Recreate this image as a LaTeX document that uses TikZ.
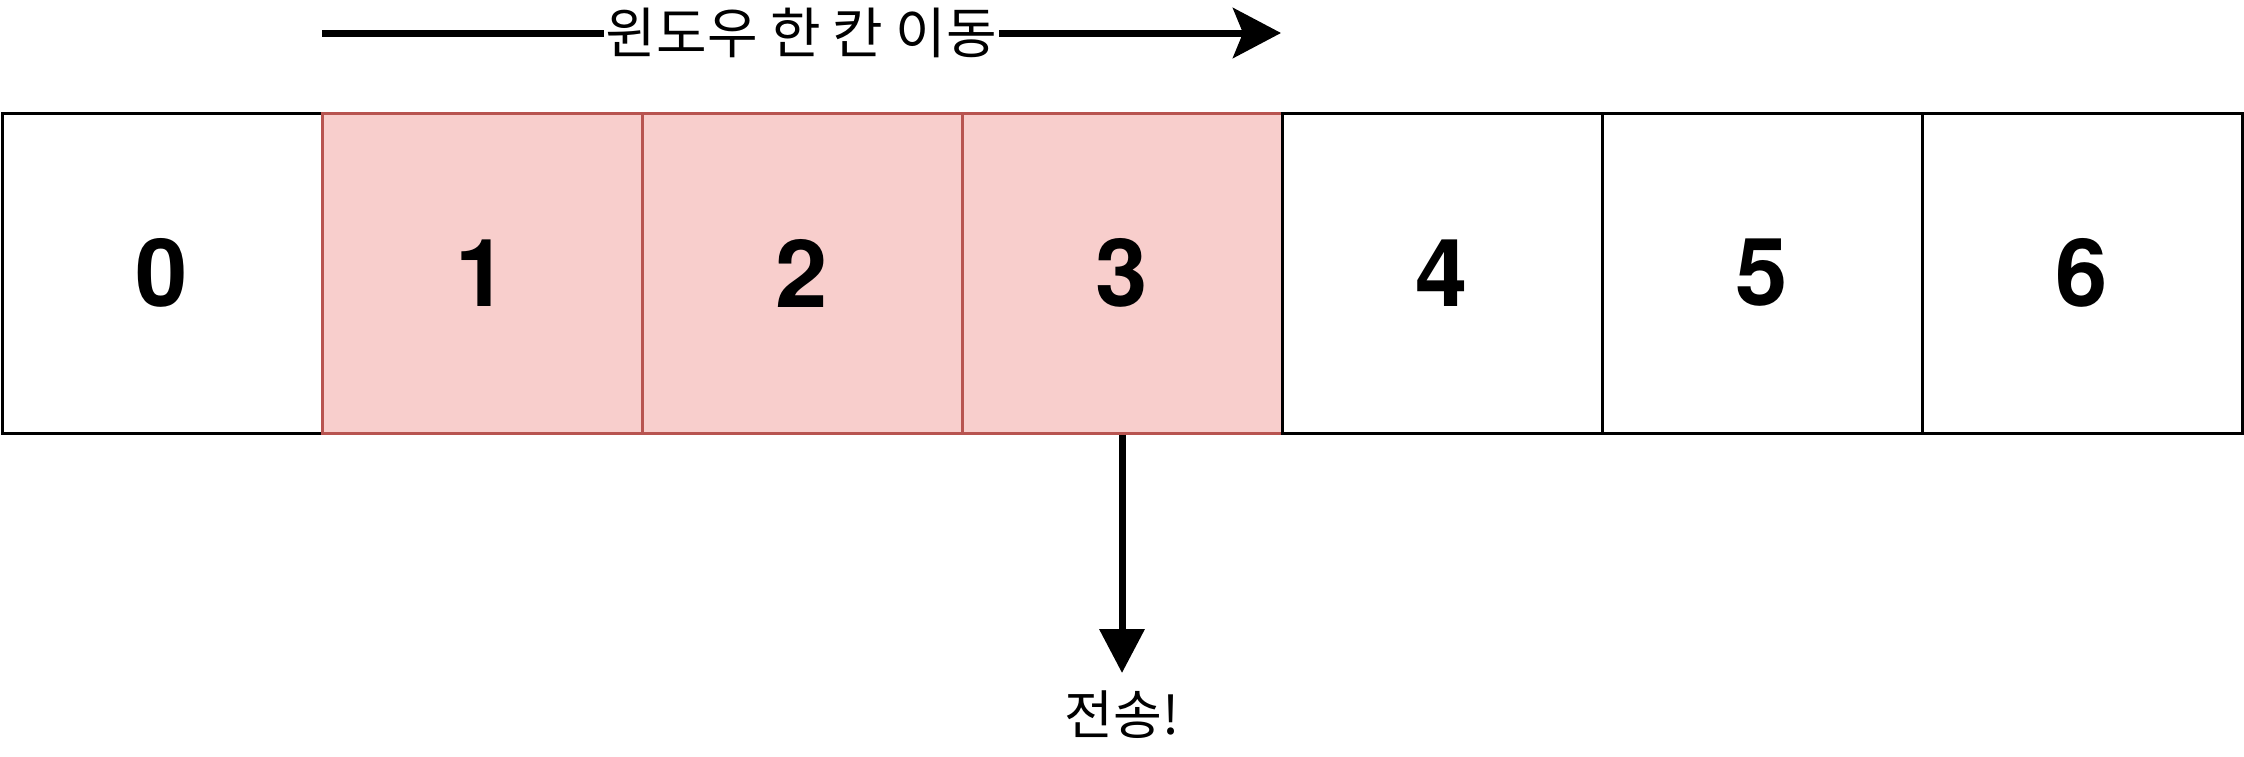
\documentclass[tikz,border=0pt]{standalone}
\usepackage{fontspec}
\setmainfont{TeX Gyre Heros}
\newfontfamily\kofont{Noto Sans CJK KR}
\usetikzlibrary{arrows.meta}
\definecolor{winfill}{HTML}{F8CECC}
\definecolor{winline}{HTML}{B85450}
\begin{document}
\begin{tikzpicture}[x=1pt,y=-1pt,
  cell/.style={draw=black,line width=3pt,fill=white,minimum width=320pt,minimum height=320pt,inner sep=0pt,
    font=\fontsize{94}{94}\selectfont\bfseries},
  wcell/.style={cell,draw=winline,fill=winfill},
  conn/.style={line width=7pt},
  lbl/.style={font=\kofont\fontsize{55}{55}\selectfont,inner sep=0pt}]
\useasboundingbox (0,0) rectangle (2244,756);
\node[cell]  (c0) at (162,273) {0};
\node[wcell] (c1) at (482,273) {1};
\node[wcell] (c2) at (802,273) {2};
\node[wcell] (c3) at (1122,273) {3};
\node[cell]  (c4) at (1442,273) {4};
\node[cell]  (c5) at (1762,273) {5};
\node[cell]  (c6) at (2082,273) {6};
\coordinate (ts) at (322,33);
\coordinate (te) at (1281,33);
\draw[conn,-{Stealth[length=48pt,width=50pt,inset=10pt]}] (ts) -- (te)
  node[pos=0.5,lbl,fill=white,inner xsep=2pt] (mv) {윈도우 한 칸 이동};
\coordinate (be) at (1122,673);
\draw[conn,-{Triangle[length=44pt,width=44pt]}] (c3.south) -- (be);
\node[lbl,font=\kofont\fontsize{53}{53}\selectfont] (send) at (1122,715) {전송!};
\end{tikzpicture}
\end{document}
